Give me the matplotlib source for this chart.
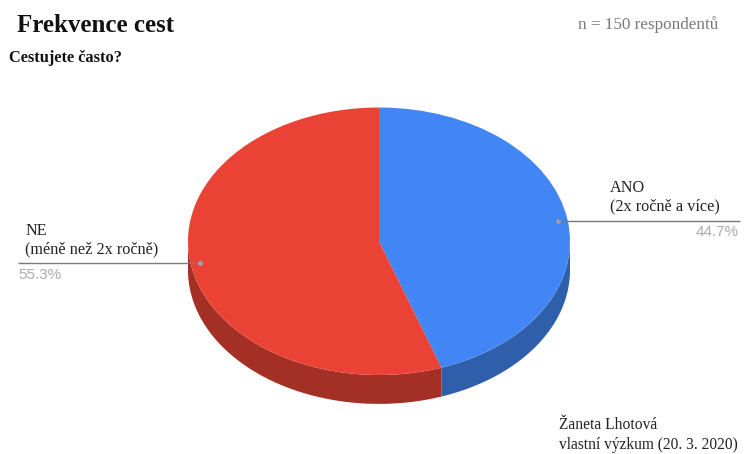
import numpy as np
import matplotlib
matplotlib.use("Agg")
import matplotlib.pyplot as plt

# Survey results
categories = ["ANO\n(2x ročně a více)", "NE\n(méně než 2x ročně)"]
shares = [44.7, 55.3]
share_labels = ["44.7%", "55.3%"]
top_colors = ["#4285F4", "#EA4335"]
side_colors = ["#2F5EAB", "#A42F25"]

title = "Frekvence cest"
subtitle = "Cestujete často?"
sample_note = "n = 150 respondentů"
author_note = "Žaneta Lhotová\nvlastní výzkum (20. 3. 2020)"

W, H = 744, 454
SERIF = "Liberation Serif"
DEPTH = 0.216        # wall height of the tilted pie, in radii
LEADER_RADIUS = 0.95

fig = plt.figure(figsize=(W / 100, H / 100), dpi=100, facecolor="white")

# Pixel-positioned overlay for text and leader lines
overlay = fig.add_axes([0, 0, 1, 1], zorder=3)
overlay.set_xlim(0, W)
overlay.set_ylim(H, 0)
overlay.axis("off")
overlay.patch.set_alpha(0)

# Pie axes stretched non-uniformly so the circle reads as a tilted disc
left, right, top, bottom = 188, 570, 107.5, 375
ax = fig.add_axes([left / W, 1 - bottom / H, (right - left) / W, (bottom - top) / H])
ax.pie(shares, colors=top_colors, startangle=90, counterclock=False, radius=1,
       wedgeprops={"linewidth": 0, "antialiased": True, "zorder": 3})
ax.set_aspect("auto")
ax.set_xlim(-1, 1)
ax.set_ylim(-1, 1)
ax.set_clip_on(False)

# Side wall: the lower half of the rim of each slice, extruded downwards
edges = 90 - 3.6 * np.cumsum([0] + shares)
for start, end, color in zip(edges[:-1], edges[1:], side_colors):
    t = np.radians(np.linspace(start, end, 300))
    t = t[np.sin(t) <= 0.001]
    xs = np.concatenate([np.cos(t), np.cos(t)[::-1]])
    ys = np.concatenate([np.sin(t), np.sin(t)[::-1] - DEPTH])
    ax.fill(xs, ys, color=color, lw=0, zorder=1, clip_on=False)

# Leader lines run from a dot inside each slice out to the label
mids = np.radians((edges[:-1] + edges[1:]) / 2)
to_px_x = lambda v: left + (v + 1) / 2 * (right - left)
to_px_y = lambda v: top + (1 - v) / 2 * (bottom - top)
leader_ends = [740, 18]
for mid, end in zip(mids, leader_ends):
    px = to_px_x(LEADER_RADIUS * np.cos(mid))
    py = to_px_y(LEADER_RADIUS * np.sin(mid)) + 0.8
    overlay.plot([px, end], [py, py], color="#7a7a7a", lw=1.0, solid_capstyle="butt")
    overlay.plot(px, py, "o", ms=3.6, color="#9aa0a6", mew=0)

# Slice labels
overlay.text(610, 214, categories[0], family=SERIF, fontsize=11.7, color="#222222",
             ha="left", va="bottom", linespacing=1.2)
overlay.text(25, 257, categories[1], family=SERIF, fontsize=11.7, color="#222222",
             ha="left", va="bottom", linespacing=1.2)
overlay.text(739, 232, share_labels[0], family="Liberation Sans", fontsize=11,
             color="#ababab", ha="right", va="center")
overlay.text(18, 275, share_labels[1], family="Liberation Sans", fontsize=11,
             color="#ababab", ha="left", va="center")

# Headings and notes
overlay.text(17, 25.5, title, family=SERIF, fontsize=18, fontweight="bold",
             color="#111111", ha="left", va="center")
overlay.text(9, 58.5, subtitle, family=SERIF, fontsize=11.8, fontweight="bold",
             color="#111111", ha="left", va="center")
overlay.text(578, 25, sample_note, family=SERIF, fontsize=12.3, color="#777777",
             ha="left", va="center")
overlay.text(559, 435, author_note, family=SERIF, fontsize=11.2, color="#222222",
             ha="left", va="center", linespacing=1.35)

fig.savefig("out.png", dpi=100, facecolor="white")
